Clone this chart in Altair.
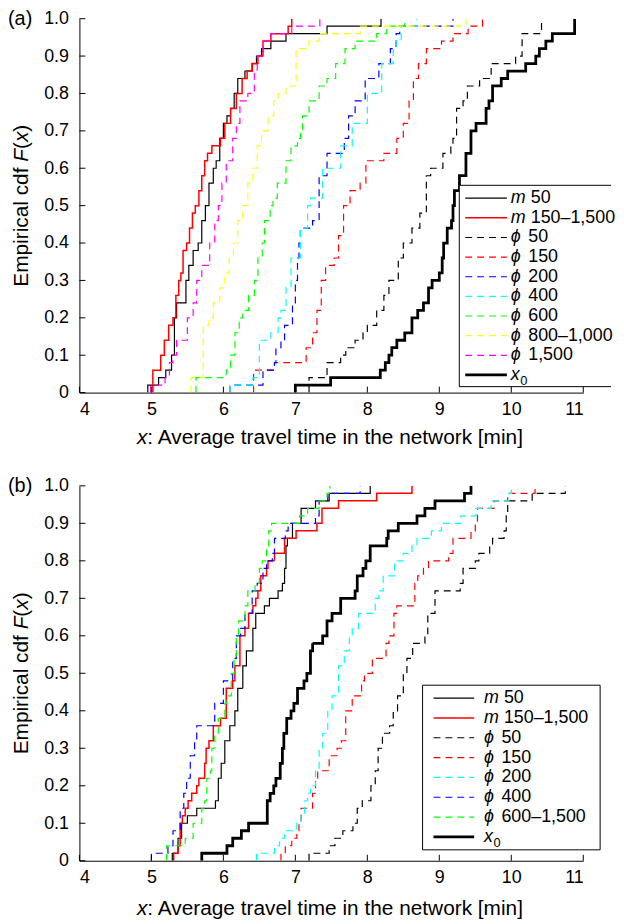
import altair as alt
import pandas as pd

FONT = "Liberation Sans"

# ---------------- panel (a): step locations (x) and cdf value after the step (F)
A_M50_X = [4.95, 5.10, 5.20, 5.28, 5.32, 5.35, 5.48, 5.52, 5.58, 5.65, 5.70, 5.75, 5.80, 5.86, 5.90, 5.95, 6.00, 6.05, 6.10, 6.15, 6.20, 6.30, 6.40, 6.46, 6.53, 6.66, 6.87, 7.44, 8.19]
A_M50_F = [0.02, 0.04, 0.06, 0.10, 0.20, 0.24, 0.30, 0.34, 0.38, 0.40, 0.46, 0.50, 0.56, 0.60, 0.62, 0.68, 0.72, 0.74, 0.76, 0.80, 0.84, 0.86, 0.88, 0.90, 0.92, 0.94, 0.96, 0.98, 1.00]
A_M150_X = [5.02, 5.13, 5.18, 5.24, 5.30, 5.34, 5.38, 5.41, 5.44, 5.49, 5.53, 5.57, 5.61, 5.66, 5.70, 5.74, 5.78, 5.84, 5.96, 6.02, 6.10, 6.18, 6.26, 6.33, 6.40, 6.48, 6.55, 6.66, 6.90, 6.95]
A_M150_F = [0.06, 0.10, 0.14, 0.18, 0.20, 0.26, 0.30, 0.32, 0.38, 0.40, 0.44, 0.48, 0.50, 0.54, 0.58, 0.62, 0.64, 0.66, 0.68, 0.72, 0.76, 0.80, 0.84, 0.86, 0.88, 0.90, 0.94, 0.96, 0.98, 1.00]
A_P50_X = [7.19, 7.44, 7.63, 7.70, 7.83, 7.94, 8.00, 8.13, 8.23, 8.30, 8.43, 8.50, 8.62, 8.73, 8.82, 8.88, 9.05, 9.16, 9.19, 9.24, 9.33, 9.39, 9.56, 9.72, 10.06, 10.15, 10.42]
A_P50_F = [0.04, 0.08, 0.10, 0.12, 0.14, 0.16, 0.18, 0.22, 0.26, 0.30, 0.36, 0.40, 0.44, 0.48, 0.58, 0.60, 0.64, 0.66, 0.68, 0.76, 0.78, 0.82, 0.84, 0.88, 0.90, 0.96, 1.00]
A_P150_X = [6.42, 6.71, 7.15, 7.24, 7.30, 7.36, 7.42, 7.54, 7.60, 7.67, 7.76, 7.90, 7.98, 8.23, 8.41, 8.50, 8.58, 8.64, 8.71, 8.82, 9.03, 9.19, 9.40, 9.60]
A_P150_F = [0.06, 0.08, 0.12, 0.16, 0.22, 0.30, 0.34, 0.36, 0.42, 0.50, 0.54, 0.56, 0.62, 0.64, 0.68, 0.72, 0.78, 0.84, 0.88, 0.92, 0.94, 0.96, 0.98, 1.00]
A_P200_X = [6.09, 6.55, 6.71, 6.73, 6.80, 6.85, 6.96, 7.00, 7.03, 7.05, 7.07, 7.24, 7.33, 7.44, 7.68, 7.74, 7.83, 7.97, 8.16, 8.32, 8.40, 8.45, 9.19]
A_P200_F = [0.02, 0.06, 0.08, 0.12, 0.14, 0.18, 0.24, 0.30, 0.36, 0.40, 0.44, 0.46, 0.58, 0.64, 0.68, 0.74, 0.78, 0.84, 0.88, 0.92, 0.96, 0.98, 1.00]
A_P400_X = [6.09, 6.41, 6.50, 6.66, 6.76, 6.80, 6.87, 6.94, 7.07, 7.17, 7.21, 7.38, 7.63, 7.79, 8.00, 8.20, 8.36, 8.40, 8.47, 8.69]
A_P400_F = [0.02, 0.04, 0.14, 0.16, 0.20, 0.22, 0.28, 0.36, 0.44, 0.50, 0.52, 0.60, 0.66, 0.72, 0.80, 0.88, 0.92, 0.94, 0.98, 1.00]
A_P600_X = [5.62, 6.04, 6.10, 6.16, 6.22, 6.27, 6.35, 6.43, 6.48, 6.54, 6.57, 6.65, 6.69, 6.75, 6.87, 6.94, 7.03, 7.07, 7.10, 7.19, 7.33, 7.44, 7.56, 7.69, 7.83, 8.13, 8.27, 8.52]
A_P600_F = [0.04, 0.06, 0.10, 0.16, 0.20, 0.22, 0.26, 0.30, 0.36, 0.40, 0.46, 0.50, 0.52, 0.56, 0.62, 0.66, 0.68, 0.70, 0.74, 0.78, 0.82, 0.84, 0.88, 0.92, 0.94, 0.96, 0.98, 1.00]
A_P800_X = [5.55, 5.72, 5.80, 5.86, 5.95, 6.02, 6.08, 6.14, 6.20, 6.27, 6.34, 6.41, 6.47, 6.53, 6.62, 6.70, 6.76, 6.87, 7.01, 7.19, 7.33, 7.90, 9.37]
A_P800_F = [0.04, 0.18, 0.20, 0.24, 0.28, 0.32, 0.36, 0.40, 0.46, 0.50, 0.56, 0.60, 0.66, 0.70, 0.74, 0.78, 0.80, 0.82, 0.92, 0.94, 0.96, 0.98, 1.00]
A_P1500_X = [4.99, 5.19, 5.25, 5.30, 5.35, 5.50, 5.58, 5.63, 5.70, 5.81, 5.88, 5.93, 5.98, 6.04, 6.13, 6.18, 6.23, 6.34, 6.43, 6.47, 6.55, 6.66, 6.95, 7.34]
A_P1500_F = [0.02, 0.04, 0.08, 0.10, 0.14, 0.20, 0.24, 0.30, 0.34, 0.40, 0.46, 0.50, 0.56, 0.62, 0.68, 0.72, 0.78, 0.80, 0.86, 0.90, 0.94, 0.96, 0.98, 1.00]
A_X0_X = [7.00, 7.49, 8.18, 8.25, 8.30, 8.34, 8.41, 8.52, 8.62, 8.70, 8.78, 8.85, 8.90, 9.00, 9.04, 9.06, 9.11, 9.17, 9.19, 9.21, 9.28, 9.37, 9.44, 9.51, 9.65, 9.69, 9.74, 9.86, 9.95, 10.20, 10.34, 10.39, 10.48, 10.57, 10.88]
A_X0_F = [0.02, 0.04, 0.06, 0.08, 0.10, 0.12, 0.14, 0.16, 0.20, 0.22, 0.24, 0.28, 0.30, 0.32, 0.36, 0.40, 0.44, 0.46, 0.50, 0.54, 0.58, 0.64, 0.70, 0.72, 0.76, 0.78, 0.82, 0.84, 0.86, 0.88, 0.90, 0.92, 0.94, 0.96, 1.00]

# ---------------- panel (b)
B_M50_X = [5.29, 5.37, 5.42, 5.50, 5.63, 5.89, 5.93, 5.97, 6.02, 6.09, 6.16, 6.20, 6.27, 6.32, 6.41, 6.45, 6.57, 6.64, 6.76, 6.82, 6.85, 6.87, 6.89, 6.96, 7.08, 7.28, 7.47, 8.04]
B_M50_F = [0.02, 0.06, 0.10, 0.12, 0.14, 0.16, 0.22, 0.26, 0.32, 0.36, 0.40, 0.46, 0.52, 0.56, 0.62, 0.66, 0.68, 0.70, 0.72, 0.74, 0.78, 0.84, 0.86, 0.90, 0.94, 0.96, 0.98, 1.00]
B_M150_X = [5.31, 5.37, 5.40, 5.43, 5.47, 5.51, 5.56, 5.63, 5.66, 5.74, 5.76, 5.80, 5.86, 5.96, 6.04, 6.13, 6.16, 6.23, 6.30, 6.35, 6.41, 6.45, 6.48, 6.52, 6.60, 6.62, 6.71, 6.85, 7.01, 7.30, 7.37, 7.60, 8.13, 8.62]
B_M150_F = [0.02, 0.04, 0.10, 0.12, 0.14, 0.16, 0.18, 0.20, 0.22, 0.26, 0.30, 0.32, 0.36, 0.38, 0.46, 0.48, 0.52, 0.60, 0.62, 0.66, 0.68, 0.70, 0.72, 0.76, 0.78, 0.80, 0.82, 0.86, 0.88, 0.90, 0.94, 0.96, 0.98, 1.00]
B_P50_X = [7.19, 7.47, 7.55, 7.66, 7.80, 7.86, 7.93, 8.05, 8.11, 8.15, 8.21, 8.31, 8.36, 8.42, 8.50, 8.55, 8.63, 8.80, 8.84, 8.94, 9.29, 9.33, 9.50, 9.55, 9.70, 9.74, 9.90, 9.93, 9.95, 10.29, 10.75]
B_P50_F = [0.02, 0.04, 0.06, 0.08, 0.10, 0.14, 0.16, 0.20, 0.24, 0.30, 0.34, 0.36, 0.40, 0.44, 0.50, 0.54, 0.58, 0.60, 0.66, 0.72, 0.74, 0.78, 0.80, 0.82, 0.84, 0.86, 0.88, 0.92, 0.96, 0.98, 1.00]
B_P150_X = [6.80, 6.86, 6.95, 7.02, 7.05, 7.08, 7.24, 7.28, 7.31, 7.47, 7.58, 7.64, 7.70, 7.79, 7.92, 7.96, 8.07, 8.26, 8.30, 8.37, 8.41, 8.66, 8.70, 8.78, 8.85, 9.13, 9.19, 9.44, 9.50, 9.53, 9.76, 9.95, 10.33]
B_P150_F = [0.02, 0.04, 0.06, 0.08, 0.10, 0.14, 0.18, 0.22, 0.24, 0.28, 0.30, 0.32, 0.40, 0.44, 0.48, 0.50, 0.54, 0.58, 0.60, 0.66, 0.68, 0.74, 0.76, 0.78, 0.80, 0.82, 0.86, 0.88, 0.90, 0.94, 0.96, 0.98, 1.00]
B_P200_X = [6.46, 6.71, 6.78, 6.85, 7.02, 7.08, 7.13, 7.17, 7.21, 7.28, 7.33, 7.38, 7.45, 7.51, 7.60, 7.68, 7.75, 7.79, 7.88, 8.11, 8.16, 8.22, 8.38, 8.50, 8.62, 8.69, 8.89, 9.03, 9.30, 9.51, 9.72, 9.97, 10.00]
B_P200_F = [0.02, 0.04, 0.06, 0.08, 0.10, 0.12, 0.16, 0.18, 0.20, 0.24, 0.30, 0.34, 0.40, 0.44, 0.52, 0.56, 0.60, 0.62, 0.66, 0.70, 0.72, 0.76, 0.80, 0.82, 0.84, 0.86, 0.88, 0.90, 0.92, 0.94, 0.96, 0.98, 1.00]
B_P400_X = [5.00, 5.23, 5.30, 5.40, 5.45, 5.49, 5.54, 5.60, 5.63, 5.88, 6.00, 6.13, 6.18, 6.24, 6.30, 6.40, 6.47, 6.55, 6.60, 6.68, 6.71, 6.86, 6.90, 7.28, 7.33, 7.45, 7.90]
B_P400_F = [0.02, 0.04, 0.08, 0.14, 0.18, 0.22, 0.28, 0.32, 0.36, 0.42, 0.48, 0.54, 0.60, 0.62, 0.66, 0.72, 0.74, 0.78, 0.80, 0.82, 0.86, 0.88, 0.90, 0.92, 0.96, 0.98, 1.00]
B_P600_X = [5.21, 5.47, 5.58, 5.70, 5.74, 5.77, 5.82, 5.84, 5.88, 5.93, 6.02, 6.05, 6.11, 6.15, 6.18, 6.21, 6.30, 6.34, 6.44, 6.50, 6.54, 6.60, 6.63, 6.67, 7.06, 7.17, 7.33, 7.44, 7.48]
B_P600_F = [0.04, 0.06, 0.10, 0.14, 0.16, 0.22, 0.24, 0.30, 0.34, 0.38, 0.42, 0.44, 0.50, 0.54, 0.60, 0.64, 0.68, 0.72, 0.74, 0.78, 0.80, 0.84, 0.88, 0.90, 0.92, 0.94, 0.96, 0.98, 1.00]
B_X0_X = [5.70, 6.05, 6.13, 6.25, 6.35, 6.61, 6.65, 6.70, 6.73, 6.79, 6.82, 6.84, 6.88, 6.94, 6.98, 7.03, 7.12, 7.16, 7.21, 7.24, 7.38, 7.44, 7.51, 7.63, 7.83, 7.86, 7.94, 7.98, 8.04, 8.27, 8.29, 8.43, 8.69, 8.80, 8.94, 9.35, 9.44]
B_X0_F = [0.02, 0.04, 0.06, 0.08, 0.10, 0.16, 0.18, 0.20, 0.22, 0.26, 0.30, 0.34, 0.38, 0.40, 0.42, 0.46, 0.48, 0.50, 0.56, 0.58, 0.60, 0.64, 0.66, 0.70, 0.72, 0.76, 0.78, 0.80, 0.84, 0.86, 0.88, 0.90, 0.92, 0.94, 0.96, 0.98, 1.00]

# ---------------- series definitions
A_KEYS = ["m50", "m150", "p50", "p150", "p200", "p400", "p600", "p800", "p1500", "x0"]
A_COLORS = ["#000000", "#ff0000", "#000000", "#ff0000", "#0000ff", "#00ffff", "#00ff00", "#ffff00", "#ff00ff", "#000000"]
A_PREFIX = ["m", "m", "ϕ", "ϕ", "ϕ", "ϕ", "ϕ", "ϕ", "ϕ", "x"]
A_SUFFIX = ["50", "150–1,500", "50", "150", "200", "400", "600", "800–1,000", "1,500", "0"]

B_KEYS = ["m50", "m150", "p50", "p150", "p200", "p400", "p600", "x0"]
B_COLORS = ["#000000", "#ff0000", "#000000", "#ff0000", "#00ffff", "#0000ff", "#00ff00", "#000000"]
B_PREFIX = ["m", "m", "ϕ", "ϕ", "ϕ", "ϕ", "ϕ", "x"]
B_SUFFIX = ["50", "150–1,500", "50", "150", "200", "400", "600–1,500", "0"]

X_TICKS = [4, 5, 6, 7, 8, 9, 10, 11]
Y_TICKS = [0, 0.1, 0.2, 0.3, 0.4, 0.5, 0.6, 0.7, 0.8, 0.9, 1.0]

W = 508
ONE = pd.DataFrame({"o": [0]})


def line_width(k):
    return 2.8 if k == "x0" else (1.5 if k == "m150" else 1.2)


def ecdf_frame(keys, xs_list, fs_list):
    rows = []
    for k, xs, fs in zip(keys, xs_list, fs_list):
        pts = [(xs[0], 0.0)] + list(zip(xs, fs))
        for i, (x, f) in enumerate(pts):
            rows.append({"series": k, "x": x, "F": f, "i": i, "sw": line_width(k)})
    return pd.DataFrame(rows)


def txt(text, x, y, size=21, italic=False, angle=0, align="left", baseline="alphabetic", dy=0):
    return alt.Chart(ONE).mark_text(
        text=text, font=FONT, fontSize=size, fontStyle="italic" if italic else "normal",
        angle=angle, align=align, baseline=baseline, color="black", dy=dy,
    ).encode(x=alt.value(x), y=alt.value(y))


def hrule(x1, x2, y):
    return alt.Chart(ONE).mark_rule(color="black", strokeWidth=1).encode(
        x=alt.value(x1), x2=alt.value(x2), y=alt.value(y))


def vrule(x, y1, y2):
    return alt.Chart(ONE).mark_rule(color="black", strokeWidth=1).encode(
        x=alt.value(x), y=alt.value(y1), y2=alt.value(y2))


def panel(tag, df, keys, colors, prefix, suffix, leg, H, title_gap):
    dashes = [[1, 0] if (k.startswith("m") or k == "x0") else [7, 5] for k in keys]
    color = alt.Color("series:N", scale=alt.Scale(domain=keys, range=colors), legend=None)
    dash = alt.StrokeDash("series:N", scale=alt.Scale(domain=keys, range=dashes), legend=None)
    width = alt.StrokeWidth("sw:Q", scale=None, legend=None)

    axis_x = alt.Axis(values=X_TICKS, format="d", ticks=False, tickSize=0, labelPadding=8,
                      labelFont=FONT, labelFontSize=18, labelColor="black",
                      domainColor="black", domainWidth=1, grid=False, title=None)
    axis_y = alt.Axis(values=Y_TICKS, labelExpr="datum.value == 0 ? '0' : format(datum.value, '.1f')",
                      ticks=False, tickSize=0, labelPadding=11,
                      labelFont=FONT, labelFontSize=18, labelColor="black",
                      domainColor="black", domainWidth=1, grid=False, title=None)
    xscale = alt.Scale(domain=[4, 11], nice=False, zero=False)
    yscale = alt.Scale(domain=[0, 1], nice=False)

    lines = alt.Chart(df).mark_line(interpolate="step-after", clip=True).encode(
        x=alt.X("x:Q", scale=xscale, axis=axis_x),
        y=alt.Y("F:Q", scale=yscale, axis=axis_y),
        color=color, strokeDash=dash, strokeWidth=width, order=alt.Order("i:Q"),
    )
    xt = alt.Chart(pd.DataFrame({"x": X_TICKS})).mark_rule(color="black", strokeWidth=1).encode(
        x=alt.X("x:Q", scale=xscale, axis=axis_x), y=alt.value(H), y2=alt.value(H - 6))
    yt = alt.Chart(pd.DataFrame({"F": Y_TICKS})).mark_rule(color="black", strokeWidth=1).encode(
        y=alt.Y("F:Q", scale=yscale, axis=axis_y), x=alt.value(0), x2=alt.value(6))

    n = len(keys)
    ld = pd.DataFrame({
        "series": keys, "pre": prefix, "suf": suffix,
        "ly": [leg["row0"] + leg["dy"] * i for i in range(n)],
        "sx": [leg["lab"] + (9.5 if p == "x" else 20 if p == "m" else 17.5) for p in prefix],
        "sw": [line_width(k) for k in keys],
    })
    box = alt.Chart(ONE).mark_rect(fill="white", stroke="black" if leg["right"] else None,
                                   strokeWidth=1).encode(
        x=alt.value(leg["x1"]), x2=alt.value(leg["x2"]), y=alt.value(leg["y1"]), y2=alt.value(leg["y2"]))
    borders = []
    if not leg["right"]:
        borders = [hrule(leg["x1"], leg["x2"], leg["y1"]), hrule(leg["x1"], leg["x2"], leg["y2"]),
                   vrule(leg["x1"], leg["y1"], leg["y2"])]
    sym = alt.Chart(ld).mark_rule().encode(
        x=alt.value(leg["s1"]), x2=alt.value(leg["s2"]),
        y=alt.Y("ly:Q", scale=None),
        color=color, strokeDash=dash, strokeWidth=width)
    pre = alt.Chart(ld).mark_text(align="left", baseline="middle", fontStyle="italic",
                                  font=FONT, fontSize=18, color="black").encode(
        x=alt.value(leg["lab"]), y=alt.Y("ly:Q", scale=None), text="pre:N")
    suf = alt.Chart(ld[ld.pre != "x"]).mark_text(align="left", baseline="middle",
                                                  font=FONT, fontSize=18, color="black").encode(
        x=alt.X("sx:Q", scale=None), y=alt.Y("ly:Q", scale=None), text="suf:N")
    sub = alt.Chart(ld[ld.pre == "x"]).mark_text(align="left", baseline="middle", dy=6,
                                                 font=FONT, fontSize=13, color="black").encode(
        x=alt.X("sx:Q", scale=None), y=alt.Y("ly:Q", scale=None), text="suf:N")

    c = H / 2
    texts = [
        txt(tag, -72, 0, size=20, baseline="middle"),
        # y title: Empirical cdf F(x)
        txt("Empirical cdf", -52, c + 81.7, angle=270),
        txt("F", -52, c - 44.3, italic=True, angle=270),
        txt("(", -52, c - 57.1, angle=270),
        txt("x", -52, c - 64.1, italic=True, angle=270),
        txt(")", -52, c - 74.6, angle=270),
        # x title
        txt("x", 58, H + title_gap, italic=True),
        txt(": Average travel time in the network [min]", 68.5, H + title_gap),
    ]
    return alt.layer(lines, xt, yt, box, *borders, sym, pre, suf, sub, *texts).properties(width=W, height=H)


df_a = ecdf_frame(A_KEYS,
                  [A_M50_X, A_M150_X, A_P50_X, A_P150_X, A_P200_X, A_P400_X, A_P600_X, A_P800_X, A_P1500_X, A_X0_X],
                  [A_M50_F, A_M150_F, A_P50_F, A_P150_F, A_P200_F, A_P400_F, A_P600_F, A_P800_F, A_P1500_F, A_X0_F])
df_b = ecdf_frame(B_KEYS,
                  [B_M50_X, B_M150_X, B_P50_X, B_P150_X, B_P200_X, B_P400_X, B_P600_X, B_X0_X],
                  [B_M50_F, B_M150_F, B_P50_F, B_P150_F, B_P200_F, B_P400_F, B_P600_F, B_X0_F])

leg_a = dict(x1=383, x2=536, y1=168, y2=371, row0=181, dy=19.8, s1=389, s2=431, lab=435, right=False)
leg_b = dict(x1=346, x2=525, y1=201, y2=367, row0=214, dy=20, s1=357, s2=398, lab=408, right=True)

pa = panel("(a)", df_a, A_KEYS, A_COLORS, A_PREFIX, A_SUFFIX, leg_a, 377, 52)
pb = panel("(b)", df_b, B_KEYS, B_COLORS, B_PREFIX, B_SUFFIX, leg_b, 378, 55)

chart = alt.vconcat(pa, pb, spacing=28).resolve_scale(
    color="independent", strokeDash="independent"
).properties(padding={"top": -3, "left": 0, "right": 0, "bottom": 0}).configure_view(stroke=None)

chart.save("out.html", embed_options={"renderer": "svg", "actions": False})
